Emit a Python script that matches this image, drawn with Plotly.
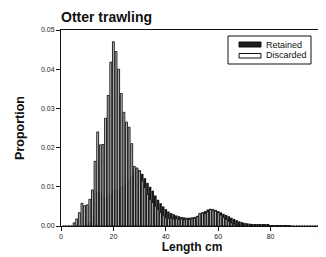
import plotly.graph_objects as go

length_cm = list(range(1, 100))

discarded = [0, 0, 0, 0, 0.0008, 0.0018, 0.0034, 0.0058, 0.0052, 0.0054,
             0.0068, 0.0092, 0.0165, 0.0240, 0.0207, 0.0208, 0.0275, 0.0333, 0.0418, 0.0470,
             0.0445, 0.0400, 0.0338, 0.0290, 0.0265, 0.0252, 0.0210, 0.0152, 0.0148, 0.0140,
             0.0115, 0.0098, 0.0080, 0.0068, 0.0060, 0.0050, 0.0042, 0.0034, 0.0026, 0.0021,
             0.0019, 0.0020, 0.0018, 0.0019, 0.0017, 0.0018, 0.0016, 0.0018, 0.0017, 0.0019,
             0.0020, 0.0024, 0.0032, 0.0033, 0.0032, 0.0036, 0.0042, 0.0040, 0.0038, 0.0034,
             0.0028, 0.0022, 0.0017, 0.0012, 0.0008, 0.0005, 0.0002] + [0] * 32

retained = [0, 0, 0, 0, 0, 0, 0, 0, 0, 0.0005,
            0.0010, 0.0030, 0.0085, 0.0088, 0.0085, 0.0075, 0.0070, 0.0075, 0.0082, 0.0090,
            0.0095, 0.0095, 0.0100, 0.0105, 0.0110, 0.0118, 0.0128, 0.0140, 0.0145, 0.0142,
            0.0133, 0.0122, 0.0110, 0.0100, 0.0090, 0.0078, 0.0067, 0.0058, 0.0050, 0.0043,
            0.0037, 0.0033, 0.0030, 0.0027, 0.0025, 0.0023, 0.0022, 0.0021, 0.0021, 0.0022,
            0.0023, 0.0026, 0.0031, 0.0035, 0.0038, 0.0042, 0.0044, 0.0043, 0.0041, 0.0038,
            0.0035, 0.0031, 0.0028, 0.0025, 0.0021, 0.0018, 0.0015, 0.0012, 0.0010, 0.0008,
            0.0007, 0.0006, 0.0005, 0.0004, 0.0004, 0.0003, 0.0003, 0.0003, 0.0003, 0.0002,
            0.0002, 0.0002, 0.0002, 0.0001, 0.0001, 0.0001, 0.0001] + [0] * 12

x_ticks = [0, 20, 40, 60, 80, 100]
y_ticks = [0.00, 0.01, 0.02, 0.03, 0.04, 0.05]
series_names = ["Retained", "Discarded"]

FONT = "Liberation Sans, Arial, sans-serif"

fig = go.Figure()
fig.add_trace(go.Bar(x=length_cm, y=retained, name=series_names[0], width=1.0,
                     marker=dict(color="#1a1a1a", line=dict(width=0)), showlegend=False))
fig.add_trace(go.Bar(x=length_cm, y=discarded, name=series_names[1], width=0.72,
                     marker=dict(color="#c4c4c4", line=dict(color="#111", width=0.9)),
                     showlegend=False))

# page body has an 8px offset; figure is sized so the plot box lands where the reference has it
W, H = 318, 249
fig.update_layout(
    width=W, height=H,
    margin=dict(l=53, r=3, t=22, b=31, autoexpand=False),
    barmode="overlay",
    paper_bgcolor="white", plot_bgcolor="white",
    font=dict(family=FONT, color="#111"),
    title=dict(text="<b>Otter trawling</b>", x=53 / W, xanchor="left",
               y=1 - 9 / H, yanchor="middle", font=dict(size=14, color="#111")),
    xaxis=dict(range=[0, 100], tickvals=x_ticks, ticktext=[str(v) for v in x_ticks],
               showline=True, linecolor="#111", linewidth=1, mirror=True,
               ticks="outside", ticklen=4, tickcolor="#111", tickwidth=1,
               tickfont=dict(size=7, color="#222"), showgrid=False, zeroline=False,
               automargin=False, ticklabeloverflow="allow",
               title=dict(text="<b>Length cm</b>", font=dict(size=12), standoff=2)),
    yaxis=dict(range=[0, 0.05], tickvals=y_ticks, ticktext=[f"{v:.2f}" for v in y_ticks],
               showline=True, linecolor="#111", linewidth=1, mirror=True,
               ticks="outside", ticklen=4, tickcolor="#111", tickwidth=1,
               tickfont=dict(size=7, color="#222"), showgrid=False, zeroline=False,
               automargin=False, ticklabeloverflow="allow",
               title=dict(text="<b>Proportion</b>", font=dict(size=12.5), standoff=13)),
)

# legend drawn in paper space (screen pixel positions of the reference)
def px_x(p):
    return (p - 61) / (323 - 61)

def px_y(p):
    return (226 - p) / (226 - 30)

shapes = [
    dict(type="rect", xref="paper", yref="paper", x0=px_x(228), x1=px_x(311),
         y0=px_y(64), y1=px_y(36), line=dict(color="#111", width=1), fillcolor="white"),
    dict(type="rect", xref="paper", yref="paper", x0=px_x(239), x1=px_x(261),
         y0=px_y(47), y1=px_y(42), line=dict(color="#111", width=1), fillcolor="#1a1a1a"),
    dict(type="rect", xref="paper", yref="paper", x0=px_x(239), x1=px_x(261),
         y0=px_y(58), y1=px_y(53.5), line=dict(color="#111", width=1), fillcolor="white"),
]
annotations = [
    dict(text=series_names[0], xref="paper", yref="paper", x=px_x(264), y=px_y(44.5),
         xanchor="left", yanchor="middle", showarrow=False, font=dict(size=9, color="#111")),
    dict(text=series_names[1], xref="paper", yref="paper", x=px_x(264), y=px_y(55.5),
         xanchor="left", yanchor="middle", showarrow=False, font=dict(size=9, color="#111")),
]
fig.update_layout(shapes=shapes, annotations=annotations)

fig.write_html("out.html")
